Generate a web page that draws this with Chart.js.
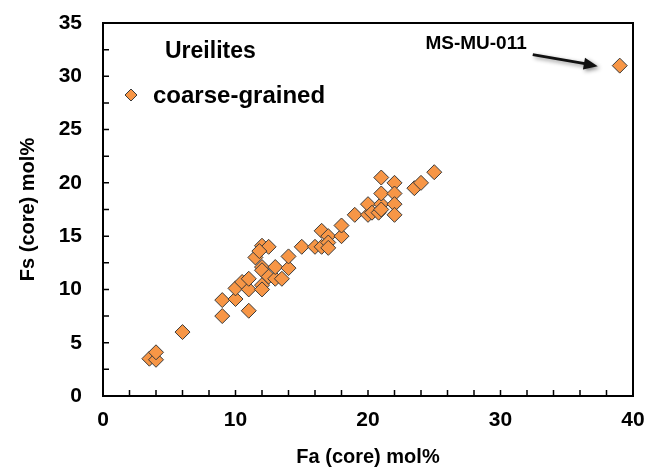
<!DOCTYPE html>
<html><head><meta charset="utf-8">
<script src="https://cdn.jsdelivr.net/npm/chart.js@4/dist/chart.umd.min.js"></script>
<style>html,body{margin:0;padding:0;background:#fff;} #wrap{width:649px;height:469px;}</style>
</head><body><div id="wrap"><canvas id="c" width="649" height="469"></canvas></div>
<script>
// Fa (core) mol% values (x)
const faCore = [3.5, 4, 4, 6, 9, 9, 10, 10, 10.5, 11, 11, 11, 11.5, 12, 12.5, 11.8, 12, 12, 12, 12, 12.5, 13, 13, 13.5, 14, 14,
  15, 16, 16.5, 16.5, 17, 17, 17, 18, 18, 19, 20, 20, 20.3, 20.8, 21, 21, 21, 21, 22, 22, 22, 22, 23.5, 24, 25, 39];
// Fs (core) mol% values (y)
const fsCore = [3.5, 3.4, 4.1, 6, 7.5, 9, 9.1, 10.1, 10.7, 8, 10, 11, 13, 14.1, 14, 13.6, 12.1, 11.8, 10.4, 10, 11.2, 11, 12.1, 11, 12, 13.1,
  14, 14, 15.5, 14, 15, 14.4, 13.9, 15, 16, 17, 17, 18, 17.2, 17.2, 18, 19, 20.5, 17.5, 20, 19, 18, 17, 19.5, 20, 21, 31];
const seriesName = 'coarse-grained';
const groupTitle = 'Ureilites';
const outlierLabel = 'MS-MU-011';
const outlierIndex = 51;
const xTitle = 'Fa (core) mol%';
const yTitle = 'Fs (core) mol%';
const xRange = [0, 40];
const yRange = [0, 35];

const points = faCore.map((x, i) => ({x: x, y: fsCore[i]}));
const FONT = "'Liberation Sans', Arial, sans-serif";
const FILL = '#F79646';
const EDGE = '#3a3a3a';

const decor = {
  id: 'decor',
  afterDraw(chart) {
    const ctx = chart.ctx, a = chart.chartArea;
    const xs = chart.scales.x, ys = chart.scales.y;
    ctx.save();
    // frame top and right
    ctx.strokeStyle = '#000'; ctx.lineWidth = 2;
    ctx.beginPath();
    ctx.moveTo(a.left, a.top); ctx.lineTo(a.right, a.top); ctx.lineTo(a.right, a.bottom);
    ctx.stroke();
    // inner tick marks
    ctx.lineWidth = 1.5;
    ctx.beginPath();
    xs.ticks.forEach(t => { const p = xs.getPixelForValue(t.value); ctx.moveTo(p, a.bottom); ctx.lineTo(p, a.bottom - 6); });
    ys.ticks.forEach(t => { const p = ys.getPixelForValue(t.value); ctx.moveTo(a.left, p); ctx.lineTo(a.left + 6, p); });
    ctx.stroke();
    // legend
    ctx.fillStyle = '#000';
    ctx.textBaseline = 'middle'; ctx.textAlign = 'left';
    ctx.font = 'bold 23px ' + FONT;
    ctx.fillText(groupTitle, a.left + 62, 52);
    ctx.font = 'bold 24px ' + FONT;
    ctx.fillText(seriesName, a.left + 50, 96);
    const lx = a.left + 28, ly = 95, r = 6;
    ctx.beginPath();
    ctx.moveTo(lx, ly - r); ctx.lineTo(lx + r, ly); ctx.lineTo(lx, ly + r); ctx.lineTo(lx - r, ly); ctx.closePath();
    ctx.fillStyle = FILL; ctx.fill(); ctx.strokeStyle = EDGE; ctx.lineWidth = 1; ctx.stroke();
    // annotation
    const px = xs.getPixelForValue(faCore[outlierIndex]);
    const py = ys.getPixelForValue(fsCore[outlierIndex]);
    ctx.fillStyle = '#000';
    ctx.font = 'bold 19px ' + FONT;
    ctx.textAlign = 'right';
    ctx.fillText(outlierLabel, px - 93, py - 22);
    ctx.save();
    ctx.shadowColor = 'rgba(0,0,0,0.45)'; ctx.shadowBlur = 4; ctx.shadowOffsetX = 2; ctx.shadowOffsetY = 2;
    const sx = px - 87, sy = py - 11, ex = px - 22, ey = py + 0.5;
    ctx.strokeStyle = '#111'; ctx.lineWidth = 3;
    ctx.beginPath(); ctx.moveTo(sx, sy); ctx.lineTo(ex - 10, ey - 2); ctx.stroke();
    const ang = Math.atan2(ey - sy, ex - sx);
    ctx.fillStyle = '#111';
    ctx.beginPath();
    ctx.moveTo(ex, ey);
    ctx.lineTo(ex - 14 * Math.cos(ang) + 6 * Math.sin(ang), ey - 14 * Math.sin(ang) - 6 * Math.cos(ang));
    ctx.lineTo(ex - 14 * Math.cos(ang) - 6 * Math.sin(ang), ey - 14 * Math.sin(ang) + 6 * Math.cos(ang));
    ctx.closePath(); ctx.fill();
    ctx.restore();
    ctx.restore();
  }
};

new Chart(document.getElementById('c'), {
  type: 'scatter',
  data: { datasets: [{
    label: seriesName, data: points,
    pointStyle: 'rectRot', pointRadius: 7.5, pointHoverRadius: 7.5,
    backgroundColor: FILL, borderColor: EDGE, borderWidth: 1
  }]},
  options: {
    responsive: false, animation: false, devicePixelRatio: 1,
    layout: { padding: { top: 23, right: 16, left: 0, bottom: 0 } },
    plugins: { legend: { display: false }, tooltip: { enabled: false } },
    scales: {
      x: {
        type: 'linear', min: xRange[0], max: xRange[1],
        afterFit: s => { s.height = 73; s.paddingLeft = 0; s.paddingRight = 0; },
        ticks: { stepSize: 2, autoSkip: false, maxRotation: 0, padding: 12, color: '#000',
          font: { family: FONT, weight: 'bold', size: 21 },
          callback: v => (v % 10 === 0 ? v : '') },
        grid: { drawOnChartArea: false, drawTicks: false },
        border: { display: true, color: '#000', width: 2 },
        title: { display: true, text: xTitle, color: '#000', font: { family: FONT, weight: 'bold', size: 20 }, padding: { top: 0, bottom: 0 } }
      },
      y: {
        type: 'linear', min: yRange[0], max: yRange[1],
        afterFit: s => { s.width = 103; s.paddingTop = 0; s.paddingBottom = 0; },
        ticks: { stepSize: 2.5, autoSkip: false, padding: 21, color: '#000',
          font: { family: FONT, weight: 'bold', size: 21 },
          callback: v => (v % 5 === 0 ? v : '') },
        grid: { drawOnChartArea: false, drawTicks: false },
        border: { display: true, color: '#000', width: 2 },
        title: { display: true, text: yTitle, color: '#000', font: { family: FONT, weight: 'bold', size: 20 }, padding: { top: 16, bottom: 0 } }
      }
    }
  },
  plugins: [decor]
});
</script></body></html>
